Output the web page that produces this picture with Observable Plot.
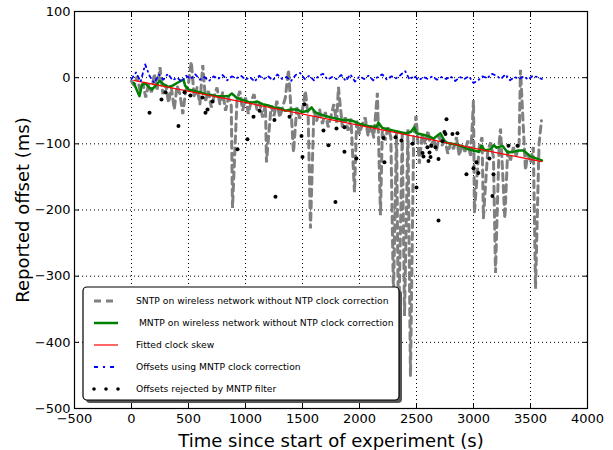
<!DOCTYPE html>
<html><head><meta charset="utf-8">
<script src="https://cdn.jsdelivr.net/npm/d3@7"></script>
<script src="https://cdn.jsdelivr.net/npm/@observablehq/plot@0.6"></script>
<style>
body{margin:0;background:#fff;font-family:"DejaVu Sans",sans-serif}
#wrap{position:relative;width:613px;height:450px}
#wrap svg{position:absolute;left:0;top:0}
</style></head><body><div id="wrap"></div>
<script>
// SNTP on wireless network (gray dashed)
const sntpTime = [0,25,50,75,100,125,150,175,200,225,
250,275,300,325,350,375,400,425,450,475,
500,525,550,575,600,625,650,675,700,725,
750,775,800,825,850,875,886,925,950,975,
1000,1025,1050,1075,1100,1125,1150,1175,1184,1225,
1250,1275,1300,1325,1350,1377,1400,1421,1450,1475,
1500,1525,1550,1570,1600,1625,1650,1675,1700,1725,
1750,1775,1800,1815,1850,1875,1900,1925,1956,1975,
2000,2025,2050,2075,2100,2125,2157,2184,2200,2225,
2250,2275,2298,2325,2342,2375,2395,2425,2447,2475,
2496,2525,2550,2575,2600,2625,2650,2675,2700,2725,
2750,2775,2800,2825,2850,2875,2900,2925,2950,2975,
3000,3008,3050,3075,3087,3125,3150,3175,3193,3225,
3237,3275,3300,3325,3350,3375,3400,3412,3456,3475,
3500,3525,3544,3575,3596];
const sntpOffset = [-5,-12,2,-20,-8,-30,-10,-22,6,-18,
16,-25,-10,-38,-15,-48,-12,-25,-55,-20,
-8,24,-30,-15,-40,19,-35,-20,-45,-28,
-15,-40,-22,-50,-30,-42,-197,-35,-20,-50,
-30,-55,-35,-25,-48,-38,-60,-40,-128,-42,
-58,-35,-60,-45,-30,12,-50,-113,-45,-62,
-48,-20,-60,-228,-50,-65,-48,-70,-52,-75,
-58,-40,-68,-14,-75,-60,-80,-62,-173,-65,
-85,-70,-60,-88,-72,-90,-23,-208,-80,-95,
-75,-90,-330,-80,-390,-85,-360,-78,-451,-90,
-58,-130,-85,-100,-80,-105,-92,-110,-88,-102,
-95,-115,-98,-108,-90,-118,-100,-112,-95,-120,
-34,-204,-105,-90,-212,-110,-98,-120,-295,-100,
-77,-213,-110,-125,-105,-118,-100,12,-140,-115,
-128,-105,-319,-100,-65];

// MNTP on wireless network (green)
const mntpTime = [20,50,70,90,120,150,180,210,250,280,320,360,400,440,456,470,500,550,600,650,700,750,800,850,880,920,960,1000,1050,1100,1150,1200,1250,1300,1350,1400,1450,1500,1550,1580,1610,1650,1700,1750,1800,1850,1900,1950,2000,2050,2100,2150,2167,2200,2250,2300,2350,2400,2450,2480,2500,2550,2600,2650,2710,2750,2800,2850,2900,2950,3000,3050,3070,3100,3150,3180,3200,3254,3300,3350,3400,3438,3500,3550,3600];
const mntpOffset = [-8,-20,-28,-12,-8,-14,-18,-12,-5,-10,-14,-12,-8,-4,-3,-12,-18,-20,-22,-25,-26,-28,-28,-28,-24,-30,-33,-35,-38,-36,-40,-42,-45,-46,-50,-48,-48,-52,-50,-45,-52,-55,-58,-60,-62,-64,-64,-66,-70,-72,-74,-74,-68,-76,-78,-80,-82,-84,-82,-75,-84,-86,-88,-92,-84,-97,-100,-101,-104,-108,-110,-112,-103,-110,-108,-102,-106,-103,-113,-112,-110,-110,-119,-122,-125];

// Fitted clock skew (red)
const fitTime = [20, 3600];
const fitOffset = [-4, -127];

// Offsets using MNTP clock correction (blue dash-dot)
const corrTime = [0,40,80,120,160,200,240,280,320,360,400,440,480,520,560,600,640,680,720,760,800,840,880,920,960,1000,1040,1080,1120,1160,1200,1240,1280,1320,1360,1400,1440,1480,1520,1560,1600,1640,1680,1720,1760,1800,1840,1880,1920,1960,2000,2040,2080,2120,2160,2200,2240,2280,2320,2360,2400,2440,2480,2520,2560,2600,2640,2680,2720,2760,2800,2840,2880,2920,2960,3000,3040,3080,3120,3160,3200,3240,3280,3320,3360,3400,3440,3480,3520,3560,3600];
const corrOffset = [-2,8,-6,20,2,-8,5,-3,6,-4,0,-6,3,-2,5,-3,1,-5,2,-2,4,-4,2,-1,3,-3,1,-6,3,-2,2,-4,5,-2,1,-5,4,7,-2,3,-4,2,6,-3,1,-2,4,-5,5,-6,2,-2,3,-4,1,5,-3,2,-1,4,10,-3,3,-4,1,-2,2,-3,1,-2,2,-5,1,-2,2,-8,-4,2,-1,6,3,-2,5,-4,1,-2,2,-3,3,1,-2];

// Offsets rejected by MNTP filter (black dots)
const rejTime = [158,263,298,412,465,517,623,649,667,711,930,1017,1070,1123,1254,1263,1386,1491,1500,1517,1684,1728,1798,1789,1868,1868,1973,2210,2219,2316,2368,2465,2500,2553,2561,2596,2605,2614,2623,2631,2666,2693,2693,2728,2754,2763,2745,2815,2859,2938,3000,3026,3043,3140,3166,3175,3307,3386];
const rejOffset = [-53,-33,-22,-73,-22,-27,-30,-53,-48,-36,-108,-93,-59,-50,-64,-180,-59,-88,-120,-40,-80,-102,-77,-188,-75,-112,-122,-91,-128,-90,-95,-100,-166,-114,-119,-105,-126,-113,-120,-103,-105,-123,-216,-96,-85,-63,-82,-85,-84,-146,-137,-128,-144,-122,-179,-146,-103,-103];

const xTicks = [-500,0,500,1000,1500,2000,2500,3000,3500,4000];
const yTicks = [-500,-400,-300,-200,-100,0,100];

const legendLabels = ["SNTP on wireless network without NTP clock correction",
  " MNTP on wireless network without NTP clock correction",
  "Fitted clock skew",
  "Offsets using MNTP clock correction",
  "Offsets rejected by MNTP filter"];

const zip = (xs, ys) => xs.map((x, i) => ({x, y: ys[i]}));
const sntp = zip(sntpTime, sntpOffset);
const mntp = zip(mntpTime, mntpOffset);
const fit = zip(fitTime, fitOffset);
const corr = zip(corrTime, corrOffset);
const rej = zip(rejTime, rejOffset);

const W = 613, H = 450;
const noLabel = () => "";
const numFmt = d => (d < 0 ? "\u2212" : "") + Math.abs(d);
const chart = Plot.plot({
  width: W, height: H,
  marginLeft: 74, marginRight: 26, marginTop: 11, marginBottom: 42,
  style: {fontFamily: "DejaVu Sans", fontSize: "13px", color: "#000", background: "transparent"},
  x: {domain: [-500, 4000], ticks: xTicks},
  y: {domain: [-500, 100], ticks: yTicks},
  marks: [
    Plot.gridX(xTicks.slice(1, -1), {stroke: "#000", strokeOpacity: 1, strokeWidth: 1, strokeDasharray: "1,3"}),
    Plot.gridY(yTicks.slice(1, -1), {stroke: "#000", strokeOpacity: 1, strokeWidth: 1, strokeDasharray: "1,3"}),
    Plot.line(sntp, {x: "x", y: "y", stroke: "#808080", strokeWidth: 3, strokeDasharray: "7,5", strokeLinejoin: "miter"}),
    Plot.line(mntp, {x: "x", y: "y", stroke: "#008000", strokeWidth: 2.5}),
    Plot.line(fit, {x: "x", y: "y", stroke: "#ff0000", strokeWidth: 1.2}),
    Plot.line(corr, {x: "x", y: "y", stroke: "#0000ff", strokeWidth: 1.8, strokeDasharray: "3,4,1,4"}),
    Plot.dot(rej, {x: "x", y: "y", r: 2, fill: "#000", stroke: "none"}),
    Plot.axisX(xTicks, {anchor: "bottom", tickSize: 0, tickPadding: 5, tickFormat: numFmt, label: "Time since start of experiment (s)", labelAnchor: "center", labelOffset: 38, labelArrow: "none"}),
    Plot.axisX(xTicks, {anchor: "bottom", tickSize: -5, tickFormat: noLabel, label: null}),
    Plot.axisX(xTicks, {anchor: "top", tickSize: -5, tickFormat: noLabel, label: null}),
    Plot.axisY(yTicks, {anchor: "left", tickSize: 0, tickPadding: 4, tickFormat: numFmt, label: "Reported offset (ms)", labelAnchor: "center", labelOffset: 58, labelArrow: "none"}),
    Plot.axisY(yTicks, {anchor: "left", tickSize: -5, tickFormat: noLabel, label: null}),
    Plot.axisY(yTicks, {anchor: "right", tickSize: -5, tickFormat: noLabel, label: null}),
    Plot.frame({stroke: "#000", strokeWidth: 1.2})
  ]
});
d3.select(chart).selectAll("[aria-label='x-axis label'] text, [aria-label='y-axis label'] text").attr("font-size", 18);
document.getElementById("wrap").appendChild(chart);

// Legend overlay
const lg = d3.select("#wrap").append("svg").attr("width", W).attr("height", H).style("pointer-events", "none");
const bx = 83, by = 287, bw = 316, bh = 113;
lg.append("rect").attr("x", bx + 3).attr("y", by + 3).attr("width", bw).attr("height", bh).attr("rx", 4).attr("fill", "#555");
lg.append("rect").attr("x", bx).attr("y", by).attr("width", bw).attr("height", bh).attr("rx", 4).attr("fill", "#fff").attr("stroke", "#000").attr("stroke-width", 1.2);
const rowY = [301, 323, 345, 367, 389];
const sx0 = 94, sx1 = 118;
lg.append("line").attr("x1", sx0).attr("x2", sx1).attr("y1", rowY[0]).attr("y2", rowY[0]).attr("stroke", "#808080").attr("stroke-width", 3).attr("stroke-dasharray", "7,5");
lg.append("line").attr("x1", sx0).attr("x2", sx1).attr("y1", rowY[1]).attr("y2", rowY[1]).attr("stroke", "#008000").attr("stroke-width", 2.5);
lg.append("line").attr("x1", sx0).attr("x2", sx1).attr("y1", rowY[2]).attr("y2", rowY[2]).attr("stroke", "#ff0000").attr("stroke-width", 1.2);
lg.append("line").attr("x1", sx0).attr("x2", sx1).attr("y1", rowY[3]).attr("y2", rowY[3]).attr("stroke", "#0000ff").attr("stroke-width", 2).attr("stroke-dasharray", "4,5,2,5");
[sx0, (sx0 + sx1) / 2, sx1].forEach(cx => lg.append("circle").attr("cx", cx).attr("cy", rowY[4]).attr("r", 1.8).attr("fill", "#000"));
legendLabels.forEach((t, i) => {
  lg.append("text").attr("x", 136).attr("y", rowY[i]).attr("dy", "0.35em")
    .attr("font-family", "DejaVu Sans").attr("font-size", 9.2).attr("fill", "#000")
    .attr("xml:space", "preserve").style("white-space", "pre").text(t);
});
</script></body></html>
